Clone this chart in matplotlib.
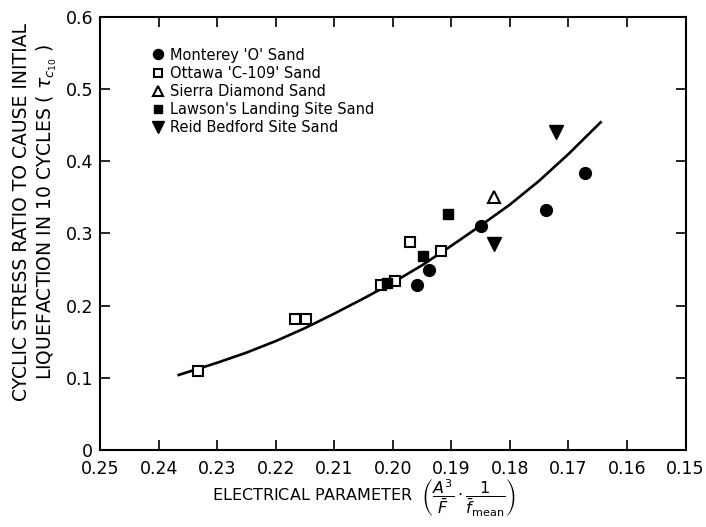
"""
Cyclic stress ratio vs. electrical parameter for several sands,
with the fitted trend curve through all tests.
"""
import matplotlib
matplotlib.use("Agg")
import matplotlib.pyplot as plt
import matplotlib.ticker as mticker

# ── data ───────────────────────────────────────────────────────────────────

monterey_x = [0.1958, 0.1939, 0.1850, 0.1739, 0.1672]
monterey_y = [0.229, 0.249, 0.311, 0.333, 0.384]

ottawa_x = [0.2333, 0.2168, 0.2148, 0.2021, 0.1996, 0.1970, 0.1917]
ottawa_y = [0.109, 0.182, 0.182, 0.228, 0.234, 0.288, 0.276]

sierra_x = [0.1828]
sierra_y = [0.351]

lawson_x = [0.2010, 0.1949, 0.1906]
lawson_y = [0.231, 0.269, 0.327]

reid_x = [0.1828, 0.1722]
reid_y = [0.286, 0.440]

# trend curve
curve_x = [0.2366, 0.2300, 0.2250, 0.2200, 0.2150, 0.2100, 0.2050, 0.2000,
           0.1950, 0.1900, 0.1850, 0.1800, 0.1750, 0.1700, 0.1645]
curve_y = [0.104, 0.121, 0.135, 0.151, 0.169, 0.189, 0.210, 0.232,
           0.256, 0.283, 0.311, 0.340, 0.373, 0.410, 0.454]

x_ticks = [0.25, 0.24, 0.23, 0.22, 0.21, 0.20, 0.19, 0.18, 0.17, 0.16, 0.15]
y_ticks = [0, 0.1, 0.2, 0.3, 0.4, 0.5, 0.6]
y_ticklabels = ["0", "0.1", "0.2", "0.3", "0.4", "0.5", "0.6"]

# ── figure ─────────────────────────────────────────────────────────────────

fig = plt.figure(figsize=(7.06, 5.27), dpi=100)
ax = fig.add_axes([0.142, 0.146, 0.829, 0.822])

ax.plot(curve_x, curve_y, color="k", lw=1.9, zorder=2)

ax.plot(monterey_x, monterey_y, ls="none", marker="o", ms=8.5,
        mfc="k", mec="k", label="Monterey 'O' Sand", zorder=3)
ax.plot(ottawa_x, ottawa_y, ls="none", marker="s", ms=7.5,
        mfc="white", mec="k", mew=1.5, label="Ottawa 'C-109' Sand", zorder=3)
ax.plot(sierra_x, sierra_y, ls="none", marker="^", ms=9,
        mfc="white", mec="k", mew=1.5, label="Sierra Diamond Sand", zorder=3)
ax.plot(lawson_x, lawson_y, ls="none", marker="s", ms=7.5,
        mfc="k", mec="k", label="Lawson's Landing Site Sand", zorder=4)
ax.plot(reid_x, reid_y, ls="none", marker="v", ms=9.5,
        mfc="k", mec="k", label="Reid Bedford Site Sand", zorder=3)

ax.set_xlim(0.25, 0.15)
ax.set_ylim(0, 0.6)
ax.set_xticks(x_ticks)
ax.xaxis.set_major_formatter(mticker.FormatStrFormatter("%.2f"))
ax.set_yticks(y_ticks)
ax.set_yticklabels(y_ticklabels)

ax.tick_params(axis="both", which="major", direction="in", length=7,
               width=1.2, labelsize=12.5, top=True, right=True)
ax.tick_params(axis="x", pad=7)
ax.tick_params(axis="y", pad=5)
for sp in ax.spines.values():
    sp.set_linewidth(1.5)

ax.set_xlabel(r"ELECTRICAL PARAMETER  $\left(\dfrac{A^3}{\bar{F}}\cdot"
              r"\dfrac{1}{\bar{f}_{\mathrm{mean}}}\right)$",
              fontsize=11.5)
ax.xaxis.set_label_coords(0.45, -0.062)
ax.set_ylabel("CYCLIC STRESS RATIO TO CAUSE INITIAL\n"
              r"LIQUEFACTION IN 10 CYCLES ( $\tau_{c_{10}}$ )",
              fontsize=13.5, linespacing=1.2)
ax.yaxis.set_label_coords(-0.07, 0.55)

ax.legend(loc="upper left", bbox_to_anchor=(0.077, 0.946), frameon=False,
          fontsize=10.5, markerscale=0.85, handlelength=0.7,
          handletextpad=0.5, labelspacing=0.22, borderpad=0)

fig.savefig("out.png", dpi=100)
plt.close(fig)
